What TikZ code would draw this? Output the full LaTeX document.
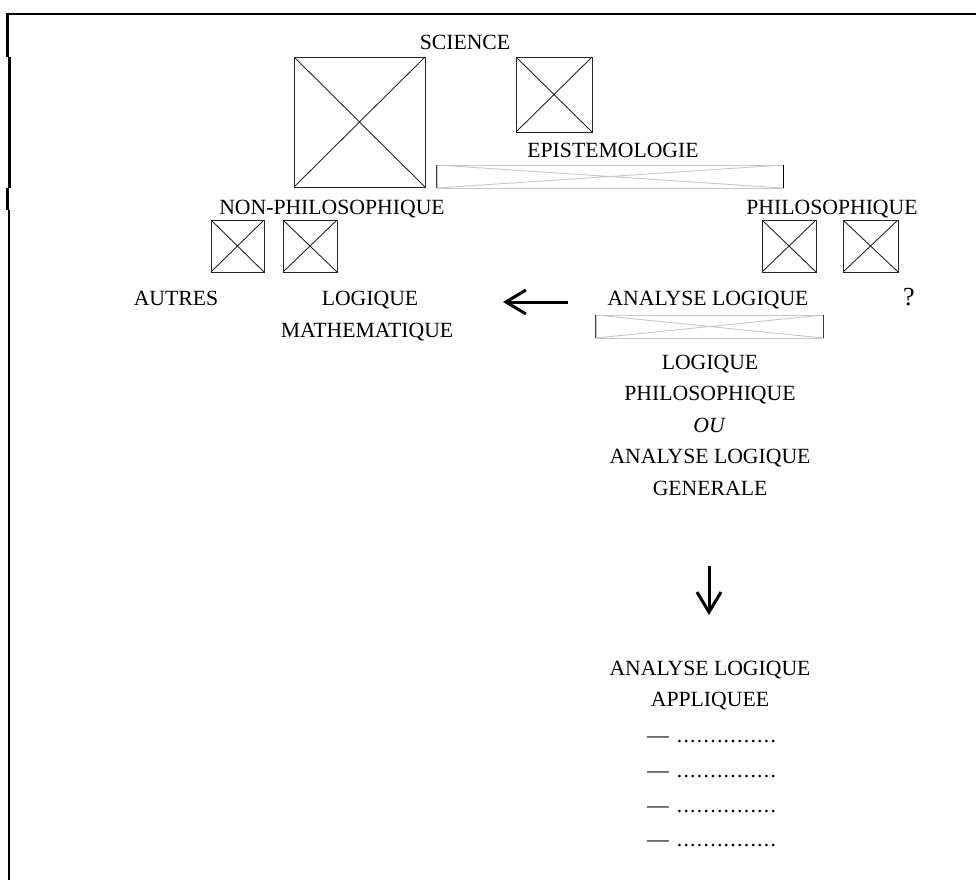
\documentclass[tikz,border=0pt]{standalone}
\usepackage{fontspec}
\setmainfont{Liberation Serif}
\usetikzlibrary{arrows.meta}
\newcommand{\dotsrow}{\foreach \k in {1,...,15}{\makebox[6.7pt]{.}}}
\begin{document}
\begin{tikzpicture}[x=1pt,y=-1pt,
  lbl/.style={anchor=base, inner sep=0pt, font=\fontsize{21.7}{26}\selectfont},
  xbox/.style={draw=black!85, line width=0.9pt, inner sep=0pt,
    path picture={\draw[black!85, line width=0.9pt]
      (path picture bounding box.north west) -- (path picture bounding box.south east)
      (path picture bounding box.south west) -- (path picture bounding box.north east);}},
  fbox/.style={draw=black!22, line width=0.9pt, inner sep=0pt,
    path picture={\draw[black!22, line width=0.9pt]
      (path picture bounding box.north west) -- (path picture bounding box.south east)
      (path picture bounding box.south west) -- (path picture bounding box.north east);}},
  frame/.style={line width=2.6pt, black},
  bigarrow/.style={line width=3pt, -{Straight Barb[length=20pt, width=24pt]}}
]
\useasboundingbox (0,0) rectangle (976,880);

% frame
\draw[frame] (6,14) -- (976,14);
\draw[frame] (7.5,13) -- (7.5,57);
\draw[frame] (9.3,57) -- (9.3,188);
\draw[frame] (7.5,188) -- (7.5,210);
\draw[frame] (9,210) -- (9,880);

% titles
\node[lbl] (science) at (465,50) {SCIENCE};
\node[xbox, minimum width=131pt, minimum height=130pt] (bigbox) at (359.5,122) {};
\node[xbox, minimum width=76pt, minimum height=75pt] (sbox) at (554,94.5) {};
\node[lbl] (episteme) at (613,157) {EPISTEMOLOGIE};
\node[fbox, minimum width=346pt, minimum height=23pt] (epbox) at (610,176.5) {};
\draw[black!75, line width=1pt] (epbox.north west) -- (epbox.south west);
\draw[black, line width=1.8pt] (epbox.north east) -- (epbox.south east);

\node[lbl] (nonphilo) at (332,214) {NON-PHILOSOPHIQUE};
\node[lbl] (philo) at (832,214) {PHILOSOPHIQUE};

\node[xbox, minimum width=53pt, minimum height=52pt] (b1) at (237.5,246) {};
\node[xbox, minimum width=54pt, minimum height=52pt] (b2) at (310,246) {};
\node[xbox, minimum width=54pt, minimum height=52pt] (b3) at (789,246) {};
\node[xbox, minimum width=55pt, minimum height=52pt] (b4) at (870.5,246) {};

\node[lbl] (autres) at (176,305) {AUTRES};
\node[lbl] (logm) at (370,305) {LOGIQUE};
\node[lbl] (mathem) at (367,337) {MATHEMATIQUE};
\node[lbl] (analyse) at (708,305) {ANALYSE LOGIQUE};
\node[anchor=base, inner sep=0pt, font=\fontsize{26}{30}\selectfont] (quest) at (909,305) {?};

\coordinate (la1) at (568,302);
\coordinate (la2) at (503,302);
\draw[bigarrow] (la1) -- (la2);

\node[fbox, minimum width=227pt, minimum height=23pt] (anbox) at (709.5,326.5) {};
\draw[black!75, line width=1pt] (anbox.north west) -- (anbox.south west);
\draw[black!75, line width=1.2pt] (anbox.north east) -- (anbox.south east);

\node[lbl] (lp1) at (710,369) {LOGIQUE};
\node[lbl] (lp2) at (710,400) {PHILOSOPHIQUE};
\node[lbl, font=\fontsize{21.7}{26}\selectfont\itshape] (lp3) at (709,432) {OU};
\node[lbl] (lp4) at (710,463) {ANALYSE LOGIQUE};
\node[lbl] (lp5) at (710,495) {GENERALE};

\coordinate (da1) at (709,566);
\coordinate (da2) at (709,615);
\draw[bigarrow] (da1) -- (da2);

\node[lbl] (ap1) at (710,675) {ANALYSE LOGIQUE};
\node[lbl] (ap2) at (710,706) {APPLIQUEE};

\node[lbl, anchor=base west] (r1) at (647,742) {—\hspace{7.3pt}\dotsrow};
\node[lbl, anchor=base west] (r2) at (647,777) {—\hspace{7.3pt}\dotsrow};
\node[lbl, anchor=base west] (r3) at (647,812) {—\hspace{7.3pt}\dotsrow};
\node[lbl, anchor=base west] (r4) at (647,846) {—\hspace{7.3pt}\dotsrow};
\end{tikzpicture}
\end{document}
